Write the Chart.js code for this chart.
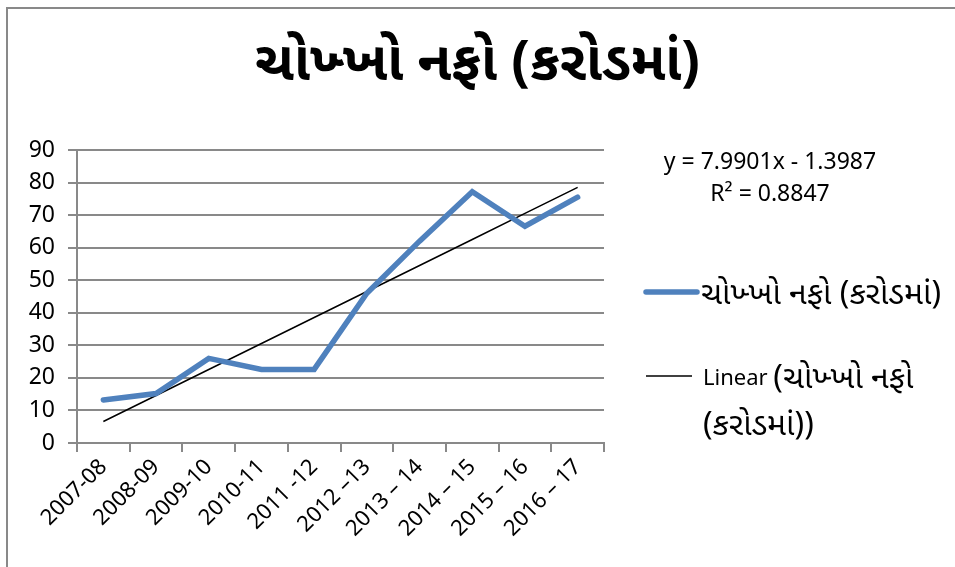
<!DOCTYPE html>
<html>
<head>
<meta charset="utf-8">
<script src="https://cdn.jsdelivr.net/npm/chart.js@4.4.1/dist/chart.umd.min.js"></script>
<style>
  html, body { margin: 0; padding: 0; background: #fff; }
  canvas { display: block; }
</style>
</head>
<body>
<canvas id="profitChart" width="955" height="567"></canvas>
<script>
// values (crore)
const years = ['2007-08', '2008-09', '2009-10', '2010-11', '2011 -12', '2012 –13', '2013 – 14', '2014 – 15', '2015 – 16', '2016 – 17'];
const netProfit = [13.2, 15.2, 26.0, 22.6, 22.6, 46.0, 62.0, 77.2, 66.6, 75.5];
const yTicks = [0, 10, 20, 30, 40, 50, 60, 70, 80, 90];

const seriesName = 'ચોખ્ખો નફો (કરોડમાં)';
const trendName = ['Linear ', '(ચોખ્ખો નફો', '(કરોડમાં))'];
// trendline equation as printed on the chart
const trendSlope = 7.9901;
const trendIntercept = -1.3987;
const trendText = ['y = 7.9901x - 1.3987', 'R² = 0.8847'];

const FONT = "'Noto Sans', 'Noto Sans Gujarati', 'Lohit Gujarati', 'Open Sans', sans-serif";
const GRID = '#898989';
const LATIN_SIZE = 22;
const GUJ_SIZE = 32;

const trendValues = years.map((_, i) => trendSlope * (i + 1) + trendIntercept);

// writes pieces of text one after the other, each with its own size
function drawRuns(ctx, runs, x, y) {
  let cx = x;
  runs.forEach(r => {
    ctx.font = `${r.size}px ${FONT}`;
    ctx.fillText(r.text, cx, y);
    cx += ctx.measureText(r.text).width;
  });
}

// frame, equation and the hand-laid legend on the right
const sidePanel = {
  id: 'sidePanel',
  beforeDraw(chart) {
    const ctx = chart.ctx;
    ctx.save();
    ctx.strokeStyle = GRID;
    ctx.lineWidth = 2;
    ctx.beginPath();
    ctx.moveTo(7, 567);
    ctx.lineTo(7, 8);
    ctx.lineTo(955, 8);
    ctx.stroke();
    ctx.restore();
  },
  afterDraw(chart) {
    const ctx = chart.ctx;
    const ds = chart.data.datasets;
    ctx.save();
    ctx.fillStyle = '#000';
    ctx.font = `23px ${FONT}`;
    ctx.textBaseline = 'middle';
    ctx.textAlign = 'center';
    ctx.fillText(trendText[0], 770, 162);
    ctx.fillText(trendText[1], 770, 194);

    ctx.textAlign = 'left';
    ctx.lineCap = 'round';
    ctx.strokeStyle = ds[0].borderColor;
    ctx.lineWidth = ds[0].borderWidth;
    ctx.beginPath();
    ctx.moveTo(646, 292);
    ctx.lineTo(697, 292);
    ctx.stroke();
    drawRuns(ctx, [{ text: seriesName, size: GUJ_SIZE }], 701, 295);

    ctx.lineCap = 'butt';
    ctx.strokeStyle = ds[1].borderColor;
    ctx.lineWidth = ds[1].borderWidth;
    ctx.beginPath();
    ctx.moveTo(646, 376);
    ctx.lineTo(692, 376);
    ctx.stroke();
    drawRuns(ctx, [{ text: trendName[0], size: LATIN_SIZE }, { text: trendName[1], size: GUJ_SIZE }], 703, 379);
    drawRuns(ctx, [{ text: trendName[2], size: GUJ_SIZE }], 703, 426);
    ctx.restore();
  }
};

new Chart(document.getElementById('profitChart'), {
  type: 'line',
  data: {
    labels: years,
    datasets: [
      {
        label: seriesName,
        data: netProfit,
        borderColor: '#4f81bd',
        borderWidth: 5.5,
        pointRadius: 0,
        borderJoinStyle: 'miter',
        borderCapStyle: 'round',
        tension: 0
      },
      {
        label: trendName.join(''),
        data: trendValues,
        borderColor: '#000',
        borderWidth: 1.5,
        pointRadius: 0,
        tension: 0
      }
    ]
  },
  options: {
    responsive: false,
    animation: false,
    layout: { padding: 0 },
    plugins: {
      legend: { display: false },
      tooltip: { enabled: false },
      title: {
        display: true,
        text: seriesName,
        color: '#000',
        font: { family: FONT, size: 55, weight: 'bold', lineHeight: 1.2 },
        padding: { top: 31, bottom: 53 }
      }
    },
    scales: {
      x: {
        offset: true,
        grid: { offset: true, drawOnChartArea: false, color: GRID, lineWidth: 2, tickLength: 9 },
        border: { color: GRID, width: 2 },
        ticks: {
          color: '#000',
          font: { family: FONT, size: 22 },
          minRotation: 45,
          maxRotation: 45,
          autoSkip: false,
          padding: 2
        },
        afterFit(scale) { scale.height = 124; }
      },
      y: {
        min: 0,
        max: 90,
        afterBuildTicks(scale) { scale.ticks = yTicks.map(v => ({ value: v })); },
        grid: { color: GRID, lineWidth: 2, tickLength: 9 },
        border: { color: GRID, width: 2 },
        ticks: { color: '#000', font: { family: FONT, size: 23 }, padding: 13 },
        afterFit(scale) { scale.width = 77; }
      },
      // empty axis that keeps the space on the right for the legend
      side: {
        position: 'right',
        grid: { display: false },
        border: { display: false },
        ticks: { display: false },
        afterFit(scale) { scale.width = 351; }
      }
    }
  },
  plugins: [sidePanel]
});
</script>
</body>
</html>
